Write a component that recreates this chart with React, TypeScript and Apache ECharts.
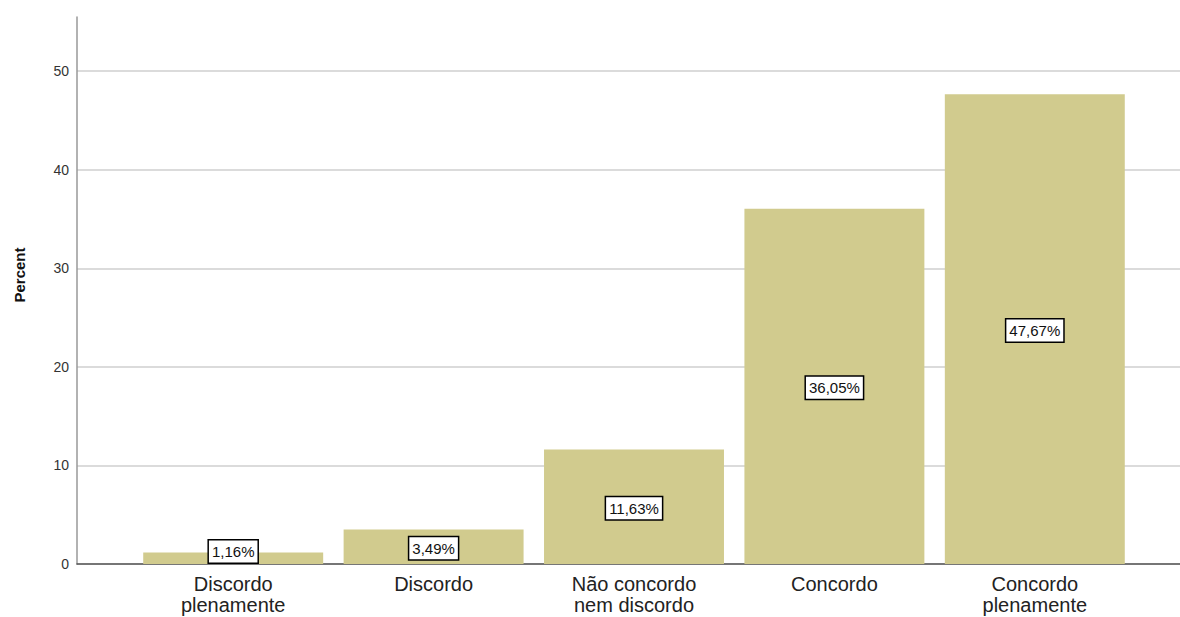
import React, { useEffect, useRef } from "react";
import * as echarts from "echarts";

const categories = ["Discordo\nplenamente", "Discordo", "Não concordo\nnem discordo", "Concordo", "Concordo\nplenamente"];
const percentValues = [1.16, 3.49, 11.63, 36.05, 47.67];
const yTicks = [0, 10, 20, 30, 40, 50];
const yMax = 55.5;
const axisTitle = "Percent";

const GRID_TOP = 17;
const GRID_BOTTOM = 53;
const H = 617;
const LABEL_H = 25;

export default function App() {
  const ref = useRef<HTMLDivElement>(null);
  useEffect(() => {
    document.body.style.margin = "0";
    const chart = echarts.init(ref.current!, null, { renderer: "svg" });
    const pxPerUnit = (H - GRID_TOP - GRID_BOTTOM) / yMax;
    const font = "Arial, 'Liberation Sans', sans-serif";
    chart.setOption({
      animation: false,
      backgroundColor: "#ffffff",
      grid: [
        { left: 77, right: 0, top: GRID_TOP, bottom: GRID_BOTTOM },
        { left: 133, right: 45, top: GRID_TOP, bottom: GRID_BOTTOM },
      ],
      xAxis: [
        {
          gridIndex: 0,
          type: "value",
          min: 0,
          max: 1,
          axisLine: { show: true, lineStyle: { color: "#555555", width: 1.5 } },
          axisTick: { show: false },
          axisLabel: { show: false },
          splitLine: { show: false },
        },
        {
          gridIndex: 1,
          type: "category",
          data: categories,
          axisLine: { show: false },
          axisTick: { show: false },
          axisLabel: {
            margin: 9,
            fontSize: 20,
            lineHeight: 21,
            color: "#222222",
            fontFamily: font,
            interval: 0,
          },
        },
      ],
      yAxis: [
        {
          gridIndex: 0,
          type: "value",
          min: 0,
          max: yMax,
          interval: 10,
          axisLine: { show: true, lineStyle: { color: "#999999", width: 1.5 } },
          axisTick: { show: false },
          axisLabel: {
            margin: 8,
            fontSize: 14,
            color: "#333333",
            fontFamily: font,
            showMaxLabel: false,
            formatter: (v: number) => (yTicks.includes(v) ? String(v) : ""),
          },
          splitLine: { show: true, showMaxLine: false, lineStyle: { color: "#cfcfcf", width: 1.5 } },
        },
        {
          gridIndex: 1,
          type: "value",
          min: 0,
          max: yMax,
          show: false,
          splitLine: { show: false },
        },
      ],
      graphic: [
        {
          type: "text",
          x: 19,
          y: 275,
          rotation: Math.PI / 2,
          style: {
            text: axisTitle,
            fontSize: 15,
            fontWeight: "bold",
            fontFamily: font,
            fill: "#111111",
            align: "center",
            verticalAlign: "middle",
          },
        },
      ],
      series: [
        {
          type: "bar",
          xAxisIndex: 1,
          yAxisIndex: 1,
          barCategoryGap: "10.2%",
          itemStyle: { color: "#d1cb8e" },
          data: percentValues.map((v) => {
            const half = (v * pxPerUnit) / 2;
            const shift = half < LABEL_H / 2 ? -(LABEL_H / 2 - half) : 1.5;
            return { value: v, label: { offset: [0, shift] } };
          }),
          label: {
            show: true,
            position: "inside",
            formatter: (p: any) => p.value.toFixed(2).replace(".", ",") + "%",
            fontSize: 15,
            fontFamily: font,
            color: "#111111",
            backgroundColor: "#ffffff",
            borderColor: "#000000",
            borderWidth: 1.5,
            padding: [4, 3, 3, 3],
          },
        },
      ],
    });
    return () => chart.dispose();
  }, []);
  return <div ref={ref} style={{ width: 1180, height: 617 }} />;
}
